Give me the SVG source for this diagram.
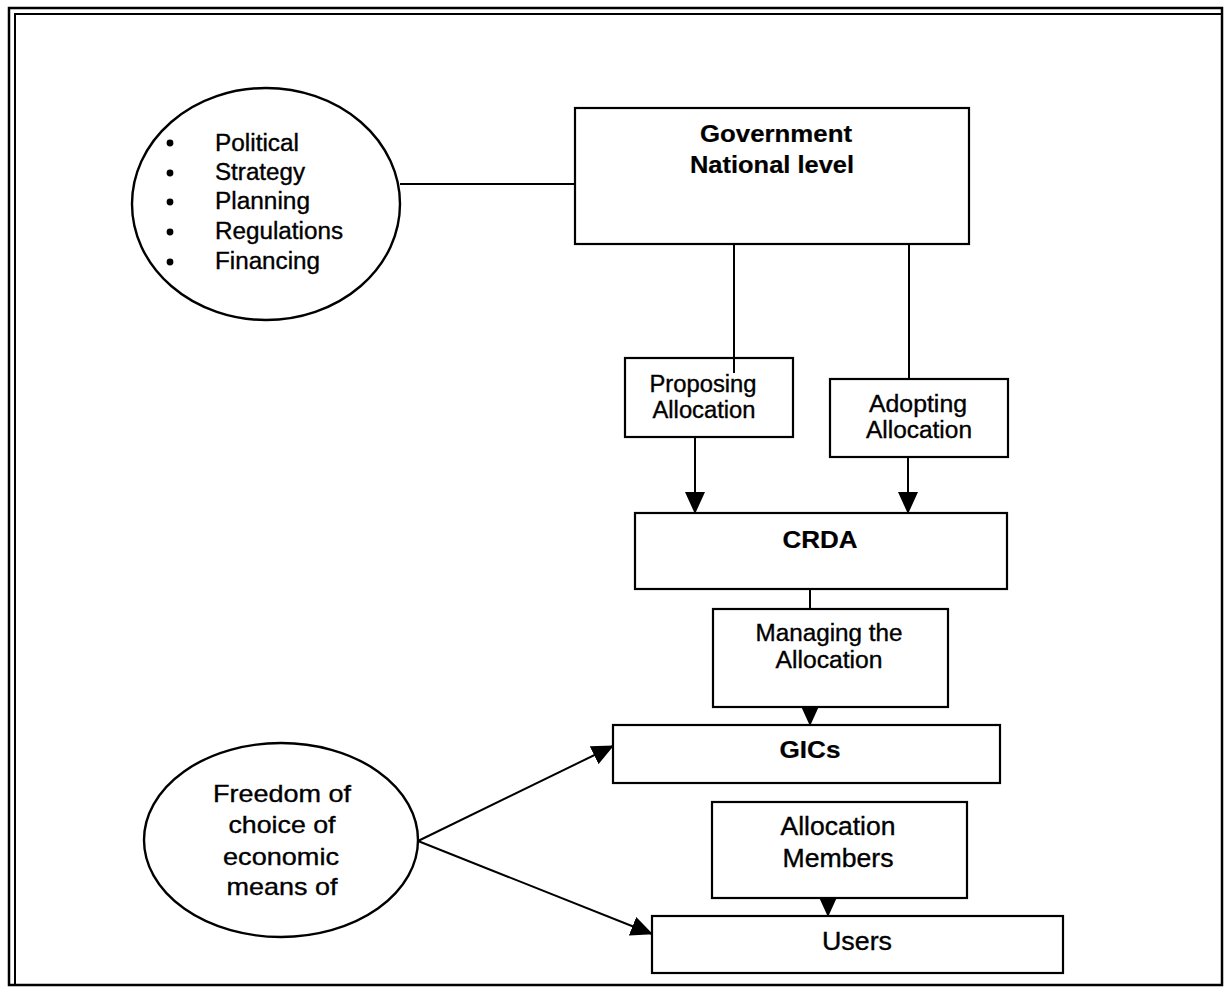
<svg xmlns="http://www.w3.org/2000/svg" width="1224" height="988" viewBox="0 0 1224 988">
  <style>
    .box { fill: #fff; stroke: #000; stroke-width: 2.2; }
    .ell { fill: #fff; stroke: #000; stroke-width: 2.4; }
    .ln { fill: none; stroke: #000; stroke-width: 2; }
    .t { font-family: "Liberation Sans", Arial, sans-serif; font-size: 23px; fill: #000; stroke: #000; stroke-width: 0.35; text-anchor: middle; }
    .b { font-weight: bold; font-size: 24px; stroke-width: 0.2; }
    .l { text-anchor: start; }
  </style>
  <defs>
    <marker id="arrow" viewBox="0 0 22 20" refX="21" refY="10" markerWidth="22" markerHeight="20" markerUnits="userSpaceOnUse" orient="auto">
      <path d="M0,0 L22,10 L0,20 Z" fill="#000"/>
    </marker>
  </defs>
  <rect width="1224" height="988" fill="#fff"/>

  <!-- page frame: double rule on top and left -->
  <g id="frame" fill="none" stroke="#000">
    <rect x="9" y="8" width="1213" height="977" stroke-width="2.5"/>
    <path d="M15 985 V14 H1222" stroke-width="2"/>
  </g>

  <!-- connectors -->
  <g id="connectors">
    <line class="ln" x1="400" y1="184" x2="575" y2="184"/>
    <line class="ln" x1="734" y1="244" x2="734" y2="373"/>
    <line class="ln" x1="909" y1="244" x2="909" y2="379"/>
    <line class="ln" x1="695" y1="437" x2="695" y2="513" marker-end="url(#arrow)"/>
    <line class="ln" x1="908" y1="457" x2="908" y2="513" marker-end="url(#arrow)"/>
    <line class="ln" x1="810" y1="589" x2="810" y2="609"/>
    <line class="ln" x1="810" y1="707" x2="810" y2="725" marker-end="url(#arrow)"/>
    <line class="ln" x1="828" y1="898" x2="828" y2="916" marker-end="url(#arrow)"/>
    <line class="ln" x1="418" y1="841" x2="613" y2="746" marker-end="url(#arrow)"/>
    <line class="ln" x1="418" y1="841" x2="652" y2="934" marker-end="url(#arrow)"/>
  </g>

  <!-- government responsibilities -->
  <g id="roles">
    <ellipse class="ell" cx="266" cy="204" rx="134" ry="116"/>
    <g fill="#000">
      <circle cx="170" cy="143" r="3.4"/>
      <circle cx="170" cy="173" r="3.4"/>
      <circle cx="170" cy="202" r="3.4"/>
      <circle cx="170" cy="232" r="3.4"/>
      <circle cx="170" cy="262" r="3.4"/>
    </g>
    <text class="t l" x="215" y="151" textLength="84" lengthAdjust="spacingAndGlyphs">Political</text>
    <text class="t l" x="215" y="180" textLength="90" lengthAdjust="spacingAndGlyphs">Strategy</text>
    <text class="t l" x="215" y="209" textLength="95" lengthAdjust="spacingAndGlyphs">Planning</text>
    <text class="t l" x="215" y="239" textLength="128" lengthAdjust="spacingAndGlyphs">Regulations</text>
    <text class="t l" x="215" y="269" textLength="105" lengthAdjust="spacingAndGlyphs">Financing</text>
  </g>

  <g id="government">
    <rect class="box" x="575" y="108" width="394" height="136"/>
    <text class="t b" x="776" y="142" textLength="152" lengthAdjust="spacingAndGlyphs">Government</text>
    <text class="t b" x="772" y="173" textLength="164" lengthAdjust="spacingAndGlyphs">National level</text>
  </g>

  <g id="proposing">
    <rect class="box" x="625" y="358" width="168" height="79"/>
    <line class="ln" x1="734" y1="358" x2="734" y2="373"/>
    <text class="t" x="703" y="392" textLength="107" lengthAdjust="spacingAndGlyphs">Proposing</text>
    <text class="t" x="704" y="418" textLength="103" lengthAdjust="spacingAndGlyphs">Allocation</text>
  </g>

  <g id="adopting">
    <rect class="box" x="830" y="379" width="178" height="78"/>
    <text class="t" x="918" y="412" textLength="98" lengthAdjust="spacingAndGlyphs">Adopting</text>
    <text class="t" x="919" y="438" textLength="106" lengthAdjust="spacingAndGlyphs">Allocation</text>
  </g>

  <g id="crda">
    <rect class="box" x="635" y="513" width="372" height="76"/>
    <text class="t b" x="820" y="548" textLength="75" lengthAdjust="spacingAndGlyphs">CRDA</text>
  </g>

  <g id="managing">
    <rect class="box" x="713" y="609" width="235" height="98"/>
    <text class="t" x="829" y="641" textLength="147" lengthAdjust="spacingAndGlyphs">Managing the</text>
    <text class="t" x="829" y="668" textLength="107" lengthAdjust="spacingAndGlyphs">Allocation</text>
  </g>

  <g id="gics">
    <rect class="box" x="613" y="725" width="387" height="58"/>
    <text class="t b" x="810" y="758" textLength="61" lengthAdjust="spacingAndGlyphs">GICs</text>
  </g>

  <g id="members">
    <rect class="box" x="712" y="802" width="255" height="96"/>
    <text class="t" x="838" y="835" style="font-size:25px" textLength="115" lengthAdjust="spacingAndGlyphs">Allocation</text>
    <text class="t" x="838" y="867" style="font-size:25px" textLength="111" lengthAdjust="spacingAndGlyphs">Members</text>
  </g>

  <g id="users">
    <rect class="box" x="652" y="916" width="411" height="57"/>
    <text class="t" x="857" y="950" style="font-size:25px" textLength="70" lengthAdjust="spacingAndGlyphs">Users</text>
  </g>

  <g id="freedom">
    <ellipse class="ell" cx="281" cy="840" rx="137" ry="97"/>
    <text class="t" x="282" y="802" style="font-size:24px" textLength="138" lengthAdjust="spacingAndGlyphs">Freedom of</text>
    <text class="t" x="282" y="833" style="font-size:24px" textLength="107" lengthAdjust="spacingAndGlyphs">choice of</text>
    <text class="t" x="281" y="865" style="font-size:24px" textLength="116" lengthAdjust="spacingAndGlyphs">economic</text>
    <text class="t" x="282" y="895" style="font-size:24px" textLength="111" lengthAdjust="spacingAndGlyphs">means of</text>
  </g>
</svg>
